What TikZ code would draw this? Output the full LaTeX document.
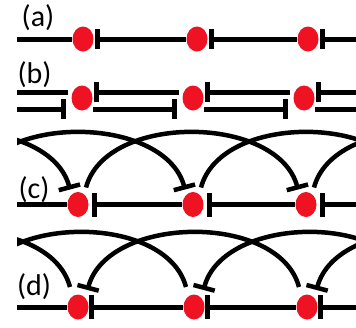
\documentclass[tikz,border=0pt]{standalone}
\usepackage{fontspec}
\setmainfont{Carlito}
\usetikzlibrary{arrows.meta,calc,shapes.geometric}
\pgfdeclarelayer{bg}
\pgfsetlayers{bg,main}
\definecolor{dotred}{RGB}{238,18,34}
\begin{document}
\begin{tikzpicture}[x=1pt,y=-1pt,
  dot/.style={ellipse, fill=dotred, minimum width=21pt, minimum height=25pt, inner sep=0pt},
  lab/.style={inner sep=0pt, font=\fontsize{30}{32}\selectfont},
  inhA/.style={line width=5pt, -{Bar[width=20pt]}},
  inhC/.style={line width=5pt, -{Bar[width=24pt]}},
  arcinh/.style={line width=4.5pt, -{Bar[width=22pt]}}]
\useasboundingbox (0,0) rectangle (356,327);
% labels
\node[lab] (la) at (38,17.5) {(a)};
\node[lab] (lb) at (34.5,75) {(b)};
\node[lab] (lc) at (34,189.5) {(c)};
\node[lab] (ld) at (34,286.5) {(d)};
% row (a)
\coordinate (aL) at (-30.5,39);
\node[dot] (a1) at (83,39) {};
\node[dot] (a2) at (197,39) {};
\node[dot] (a3) at (308,39) {};
\coordinate (aR) at (421,39);
% row (b)
\coordinate (bL) at (-29,98);
\node[dot] (b1) at (82,98) {};
\node[dot] (b2) at (193,98) {};
\node[dot] (b3) at (304,98) {};
\coordinate (bR) at (415,98);
% row (c)
\coordinate (cL2) at (-150,204.5);
\coordinate (cL1) at (-36,204.5);
\node[dot] (c1) at (78,204.5) {};
\node[dot] (c2) at (193,204.5) {};
\node[dot] (c3) at (306,204.5) {};
\coordinate (cR1) at (420,204.5);
\coordinate (cR2) at (534,204.5);
% row (d)
\coordinate (dL2) at (-150,307);
\coordinate (dL1) at (-36,307);
\node[dot] (d1) at (78,307) {};
\node[dot] (d2) at (194,307) {};
\node[dot] (d3) at (307,307) {};
\coordinate (dR1) at (421,307);
\coordinate (dR2) at (535,307);
\begin{pgfonlayer}{bg}
\begin{scope}
\clip (17,0) rectangle (356,327);
% (a)
\foreach \s/\e in {aL/a1,a1/a2,a2/a3,a3/aR}
  \draw[inhA] (\e) -- ($(\s)+(12,0)$);
% (b)
\foreach \s/\e in {bL/b1,b1/b2,b2/b3,b3/bR}{
  \draw[inhA] ($(\e)+(-14,-6)$) -- ($(\s)+(11.5,-6)$);
  \draw[inhA] ($(\s)+(11,11)$) -- ($(\e)+(-16,11)$);
}
% (c)
\foreach \s/\e in {cL1/c1,c1/c2,c2/c3,c3/cR1}
  \draw[inhC] (\e) -- ($(\s)+(14,0)$);
\foreach \s/\e in {cL2/c1,cL1/c2,c1/c3,c2/cR1,c3/cR2}
  \draw[arcinh] ($(\s)+(8,-17)$) .. controls ($(\s)+(28,-92)$) and ($(\e)+(-28,-90)$) .. ($(\e)+(-8,-15)$);
% (d)
\foreach \s/\e in {dL1/d1,d1/d2,d2/d3,d3/dR1}
  \draw[inhC] (\e) -- ($(\s)+(10.5,0)$);
\foreach \s/\e in {dL2/d1,dL1/d2,d1/d3,d2/dR1,d3/dR2}
  \draw[arcinh] ($(\e)+(-8,-20)$) .. controls ($(\e)+(-28,-95)$) and ($(\s)+(29.5,-92)$) .. ($(\s)+(9.5,-17)$);
\end{scope}
\end{pgfonlayer}
\end{tikzpicture}
\end{document}
